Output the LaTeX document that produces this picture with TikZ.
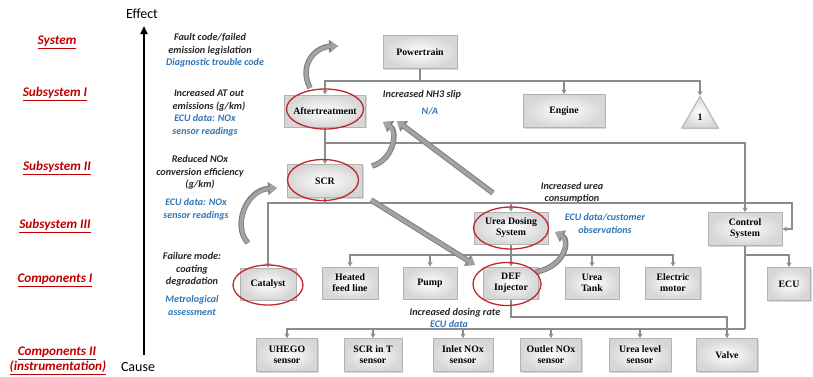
\documentclass[tikz,border=0pt]{standalone}
\usepackage{fontspec}
\setmainfont{Liberation Serif}
\newfontfamily\carl{Carlito}
\usetikzlibrary{arrows.meta,shapes.geometric,shadows}
\definecolor{lvred}{HTML}{C00000}
\definecolor{annblue}{HTML}{2E75B6}
\definecolor{anntxt}{HTML}{262626}
\definecolor{ellred}{HTML}{C0272D}
\definecolor{lgray}{HTML}{8C8C8C}
\definecolor{bgray}{HTML}{A3A3A3}
\definecolor{bgrayd}{HTML}{7F7F7F}
\begin{document}
\begin{tikzpicture}[x=1pt,y=-1pt,
 boxlook/.style={draw=gray!60, line width=1pt, inner color=white, outer color=gray!32,
   font=\bfseries\fontsize{9.8}{11}\selectfont,
   drop shadow={opacity=0.3, shadow xshift=1.2pt, shadow yshift=-1.2pt}},
 box/.style={boxlook, rectangle, minimum height=32pt, inner sep=1pt, align=center},
 conn/.style={draw=lgray, line width=1.1pt},
 arr/.style={conn, -{Stealth[length=4.5pt,width=5pt]}},
 blockarrout/.style={draw=bgrayd, line width=5.5pt, -{Triangle[length=9pt,width=12.5pt]}},
 blockarr/.style={draw=bgray, line width=3.5pt, -{Triangle[length=7pt,width=10pt]}},
 redell/.style={ellipse, draw=ellred, line width=1.3pt, inner sep=0pt},
 lvl/.style={text=lvred, font=\carl\bfseries\itshape\fontsize{13.2}{15}\selectfont},
 ann/.style={text=anntxt, font=\carl\bfseries\itshape\fontsize{10.2}{12.5}\selectfont, align=center},
 annb/.style={text=annblue, font=\carl\bfseries\itshape\fontsize{10}{12.5}\selectfont, align=center},
 axl/.style={font=\carl\fontsize{14}{16}\selectfont},
]
\useasboundingbox (0,0) rectangle (813,376);

% axis
\coordinate (ax0) at (144,355);
\coordinate (ax1) at (144,26);
\draw[line width=2pt, -{Triangle[length=8pt,width=7pt]}] (ax0) -- (ax1);
\node[axl] (eff) at (142,14) {Effect};
\node[axl] (cause) at (138,367) {Cause};

% level labels
\node[lvl] (l1) at (57,42) {\underline{System}};
\node[lvl] (l2) at (55,94) {\underline{Subsystem I}};
\node[lvl] (l3) at (57,168) {\underline{Subsystem II}};
\node[lvl] (l4) at (55,226) {\underline{Subsystem III}};
\node[lvl] (l5) at (55,280) {\underline{Components I}};
\node[lvl] (l6) at (57,353) {\underline{Components II}};
\node[lvl] (l7) at (58,368) {\underline{(instrumentation)}};

% annotations
\node[ann] (a1) at (210,44.5) {Fault code/failed\\emission legislation};
\node[annb] (a1b) at (215,63) {Diagnostic trouble code};
\node[ann] (a2) at (209,100.5) {Increased AT out\\emissions (g/km)};
\node[annb] (a2b) at (205,125.5) {ECU data: NOx\\sensor readings};
\node[ann] (a3) at (200,172.5) {Reduced NOx\\conversion efficiency\\(g/km)};
\node[annb] (a3b) at (196,209.5) {ECU data: NOx\\sensor readings};
\node[ann] (a4) at (192,269.5) {Failure mode:\\coating\\degradation};
\node[annb] (a4b) at (192,305.5) {Metrological\\assessment};
\node[ann] (m1) at (422,95) {Increased NH3 slip};
\node[annb] (m1b) at (430,111) {N/A};
\node[ann] (m2) at (572,192.5) {Increased urea\\consumption};
\node[annb] (m2b) at (605,223.5) {ECU data/customer\\observations};
\node[ann] (m3) at (455,313) {Increased dosing rate};
\node[annb] (m3b) at (449,324) {ECU data};

% boxes
\node[box, minimum width=74pt, minimum height=33pt] (pt) at (420,52) {Powertrain};
\node[box, minimum width=81pt] (at) at (325,111) {Aftertreatment};
\node[box, minimum width=82pt, minimum height=33pt] (eng) at (564,111) {Engine};
\node[boxlook, regular polygon, regular polygon sides=3, minimum size=42pt, inner sep=0pt] (tri) at (700,117.5) {1};
\node[box, minimum width=75pt, minimum height=33pt] (scr) at (325,181) {SCR};
\node[box, minimum width=74pt] (uds) at (511,228) {Urea Dosing\\System};
\node[box, minimum width=74pt, minimum height=33pt] (cs) at (745,229) {Control\\System};
\node[box, minimum width=56pt] (cat) at (268,284) {Catalyst};
\node[box, minimum width=56pt] (hfl) at (350,283) {Heated\\feed line};
\node[box, minimum width=54pt] (pump) at (430,283) {Pump};
\node[box, minimum width=55pt] (def) at (511,283) {DEF\\Injector};
\node[box, minimum width=54pt] (ut) at (592,283) {Urea\\Tank};
\node[box, minimum width=55pt] (em) at (673,283) {Electric\\motor};
\node[box, minimum width=43pt, minimum height=33pt] (ecu) at (789,284) {ECU};
\node[box, minimum width=61pt, minimum height=33pt] (uhego) at (287,355) {UHEGO\\sensor};
\node[box, minimum width=58pt, minimum height=33pt] (scrt) at (373,355) {SCR in T\\sensor};
\node[box, minimum width=60pt, minimum height=33pt] (inox) at (463,355) {Inlet NOx\\sensor};
\node[box, minimum width=61pt, minimum height=33pt] (onox) at (551,355) {Outlet NOx\\sensor};
\node[box, minimum width=62pt, minimum height=33pt] (ulev) at (640,355) {Urea level\\sensor};
\node[box, minimum width=61pt, minimum height=33pt] (valve) at (727,355) {Valve};

% connectors
\coordinate (j1) at (420,81);
\draw[conn] (pt.south) -- (j1);
\draw[arr] (j1) -| (at.north);
\draw[arr] (j1) -| (eng.north);
\draw[arr] (j1) -| (tri.north);
\draw[arr] (at.south) -- (scr.north);
\coordinate (j2) at (325,143);
\draw[arr] (j2) -| (cs.north);
\coordinate (j3) at (325,203);
\coordinate (j3r) at (792,203);
\draw[conn] (scr.south) -- (j3);
\draw[arr] (j3) -| (cat.north);
\draw[arr] (j3) -| (uds.north);
\draw[arr] (j3) -- (j3r) |- (cs.east);
\draw[arr] (uds.south) -- (def.north);
\coordinate (j4) at (511,255);
\draw[arr] (j4) -| (hfl.north);
\draw[arr] (j4) -| (pump.north);
\draw[arr] (j4) -| (ut.north);
\draw[arr] (j4) -| (em.north);
\coordinate (j5) at (745,255);
\coordinate (j6) at (745,329);
\draw[conn] (cs.south) -- (j6);
\draw[arr] (j5) -| (ecu.north);
\draw[arr] (j6) -| (uhego.north);
\draw[arr] (j6) -| (scrt.north);
\draw[arr] (j6) -| (inox.north);
\draw[arr] (j6) -| (onox.north);
\draw[arr] (j6) -| (ulev.north);
\coordinate (j7) at (511,317);
\draw[arr] (def.south) -- (j7) -| (valve.north);

% block arrows
\coordinate (c1s) at (310,88);  \coordinate (c1e) at (338,46);
\coordinate (c2s) at (372,166); \coordinate (c2e) at (383,122);
\coordinate (c3s) at (248,243); \coordinate (c3e) at (277,188);
\coordinate (c4s) at (536,272); \coordinate (c4e) at (555,232);
\coordinate (s1s) at (493,193); \coordinate (s1e) at (397,121);
\coordinate (s2s) at (371,200); \coordinate (s2e) at (475,265);
\foreach \st in {blockarrout,blockarr}{
 \draw[\st] (c1s) .. controls (298,64) and (316,47) .. (c1e);
 \draw[\st] (c2s) .. controls (394,160) and (398,131) .. (c2e);
 \draw[\st] (c3s) .. controls (232,226) and (246,190) .. (c3e);
 \draw[\st] (c4s) .. controls (566,266) and (570,240) .. (c4e);
 \draw[\st] (s1s) -- (s1e);
 \draw[\st] (s2s) -- (s2e);
}

% red ellipses
\node[redell, minimum width=77pt, minimum height=40pt] (e1) at (325,109) {};
\node[redell, minimum width=71pt, minimum height=41pt] (e2) at (323,180) {};
\node[redell, minimum width=75pt, minimum height=42pt] (e3) at (511,228) {};
\node[redell, minimum width=70pt, minimum height=40pt] (e4) at (268,285) {};
\node[redell, minimum width=68pt, minimum height=43pt] (e5) at (507,284) {};
\end{tikzpicture}
\end{document}
